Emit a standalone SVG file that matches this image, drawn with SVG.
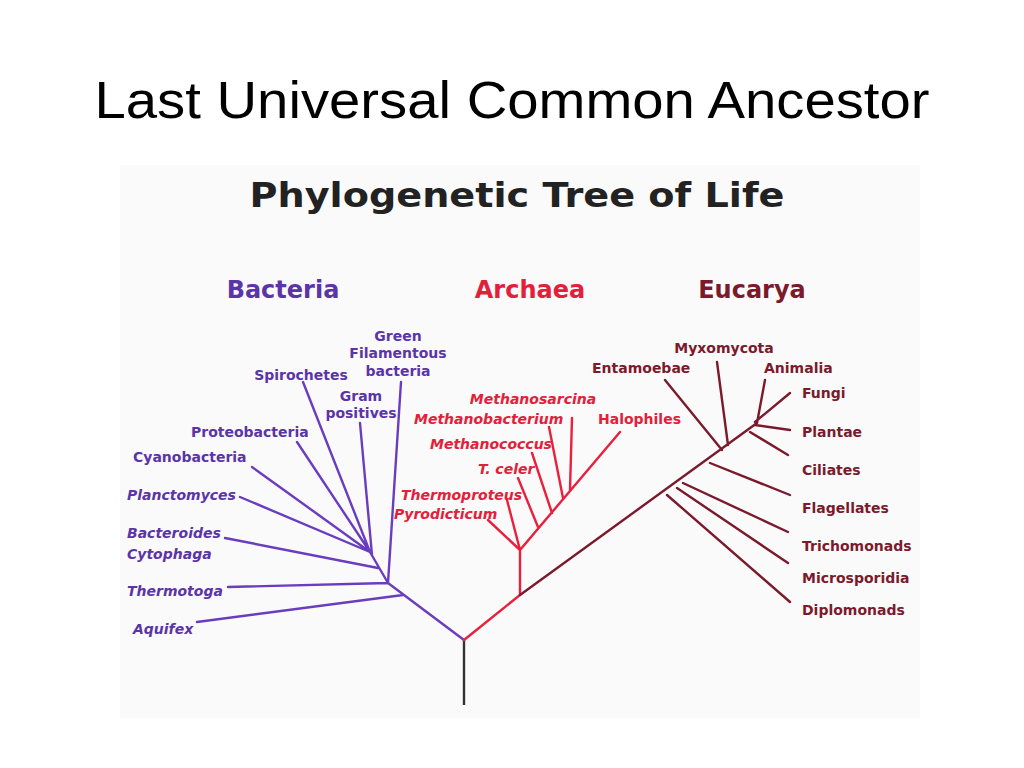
<svg xmlns="http://www.w3.org/2000/svg" width="1024" height="768" viewBox="0 0 1024 768">
<style>
.b{stroke:#6a3cc0;stroke-width:2.4;fill:none;stroke-linecap:round}
.a{stroke:#e8203c;stroke-width:2.4;fill:none;stroke-linecap:round}
.e{stroke:#7a1a2c;stroke-width:2.4;fill:none;stroke-linecap:round}
text{font-family:"DejaVu Sans",sans-serif;font-weight:bold;font-size:14px}
.tb{fill:#5a34a8}.ta{fill:#e3203a}.te{fill:#7a1a2c}
.i{font-style:italic}
.h{font-size:24px}
</style>
<rect width="1024" height="768" fill="#fff"/>
<rect x="120" y="165" width="800" height="553" fill="#fafafa"/>
<text x="512" y="118" text-anchor="middle" style="font-family:'Liberation Sans',sans-serif;font-weight:normal;font-size:52px" textLength="835" lengthAdjust="spacingAndGlyphs" fill="#000">Last Universal Common Ancestor</text>
<text x="517" y="207" text-anchor="middle" style="font-size:33px" textLength="535" lengthAdjust="spacingAndGlyphs" fill="#222">Phylogenetic Tree of Life</text>
<text x="283" y="298" text-anchor="middle" class="h tb">Bacteria</text>
<text x="530" y="298" text-anchor="middle" class="h ta">Archaea</text>
<text x="752" y="298" text-anchor="middle" class="h te">Eucarya</text>
<g id="connectors">
<path d="M464,640V705" stroke="#333" stroke-width="2.4"/>
<path class="b" d="M464,640L388,583M403,595L197,622M388,583L228,587M388,583L401,382M388,583L370,552M378,568L225,538M370,552L240,497M370,552L252,467M370,552L297,442M370,552L303,382M372,555L360,423"/>
<path class="a" d="M464,640L520,595V550L620,432M538,527L518,478M552,513L532,453M563,498L549,427M570,490L572,418M520,550L507,500M520,550L488,520"/>
<path class="e" d="M520,595L757,423M667,495L790,602M677,488L788,563M683,483L788,532M710,463L790,495M750,432L788,455M755,425L790,430M755,422L790,393M757,423L765,380M728,445L717,362M722,450L665,380"/>
</g>
<g id="bacteria">
<text x="398" y="341" text-anchor="middle" class="tb">Green</text>
<text x="398" y="358" text-anchor="middle" class="tb">Filamentous</text>
<text x="398" y="376" text-anchor="middle" class="tb">bacteria</text>
<text x="301" y="380" text-anchor="middle" class="tb">Spirochetes</text>
<text x="361" y="401" text-anchor="middle" class="tb">Gram</text>
<text x="361" y="418" text-anchor="middle" class="tb">positives</text>
<text x="191" y="437" class="tb">Proteobacteria</text>
<text x="133" y="462" class="tb">Cyanobacteria</text>
<text x="127" y="500" class="tb i">Planctomyces</text>
<text x="127" y="538" class="tb i">Bacteroides</text>
<text x="127" y="559" class="tb i">Cytophaga</text>
<text x="127" y="596" class="tb i">Thermotoga</text>
<text x="133" y="634" class="tb i">Aquifex</text>
</g>
<g id="archaea">
<text x="533" y="404" text-anchor="middle" class="ta i">Methanosarcina</text>
<text x="414" y="424" class="ta i">Methanobacterium</text>
<text x="430" y="449" class="ta i">Methanococcus</text>
<text x="478" y="474" class="ta i">T. celer</text>
<text x="401" y="500" class="ta i">Thermoproteus</text>
<text x="394" y="519" class="ta i">Pyrodicticum</text>
<text x="598" y="424" class="ta">Halophiles</text>
</g>
<g id="eucarya">
<text x="724" y="353" text-anchor="middle" class="te">Myxomycota</text>
<text x="592" y="373" class="te">Entamoebae</text>
<text x="764" y="373" class="te">Animalia</text>
<text x="802" y="398" class="te">Fungi</text>
<text x="802" y="437" class="te">Plantae</text>
<text x="802" y="475" class="te">Ciliates</text>
<text x="802" y="513" class="te">Flagellates</text>
<text x="802" y="551" class="te">Trichomonads</text>
<text x="802" y="583" class="te">Microsporidia</text>
<text x="802" y="615" class="te">Diplomonads</text>
</g>
</svg>
